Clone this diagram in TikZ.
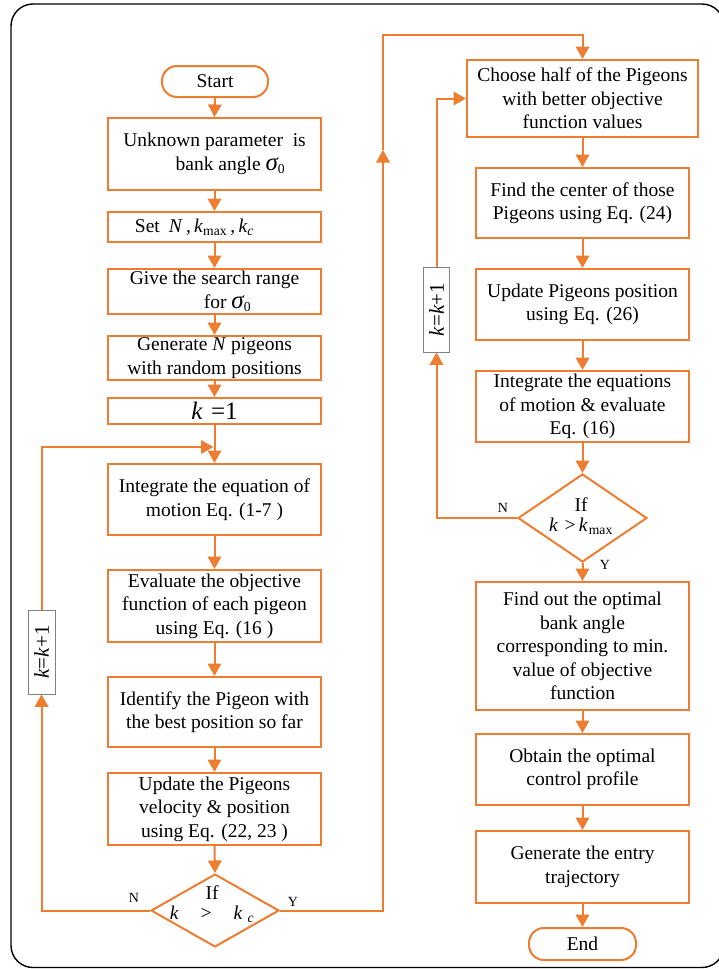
\documentclass[tikz,border=0pt]{standalone}
\usepackage{fontspec}
\setmainfont{Liberation Serif}
\usetikzlibrary{arrows.meta,shapes.geometric}
\definecolor{org}{HTML}{ED7D31}
\tikzset{
 box/.style={draw=org, line width=2pt, fill=white, align=center, inner sep=0pt, font=\fontsize{19.5}{23.5}\selectfont},
 term/.style={box, rounded corners=15pt},
 dia/.style={diamond, draw=org, line width=2pt, fill=white, inner sep=0pt},
 conn/.style={draw=org, line width=2pt, -{Triangle[width=13.5pt,length=12.5pt]}},
 labbox/.style={draw=gray, line width=0.8pt, fill=white, inner sep=0pt},
 labtxt/.style={rotate=90, inner sep=0pt, font=\fontsize{21}{24}\selectfont},
 yn/.style={inner sep=0pt, font=\fontsize{14}{16}\selectfont},
 dtxt/.style={inner sep=0pt, align=center, font=\fontsize{19.5}{20}\selectfont}
}
\newcommand\sgm{{\fontsize{25}{25}\selectfont\itshape σ}}
\begin{document}
\begin{tikzpicture}[x=1pt,y=-1pt]
\clip (0,0) rectangle (719,969);
\draw[line width=1.4pt, rounded corners=22pt] (11,4) rectangle (724,967.5);
% left column
\node[term, minimum width=106pt, minimum height=31pt] (start) at (215,81.5) {Start};
\node[box, minimum width=213pt, minimum height=72pt] (b1) at (214.5,154) {Unknown parameter\ \ is\\\hspace{32pt}bank angle \sgm\textsubscript{0}};
\node[box, minimum width=213pt, minimum height=30pt] (b2) at (214.5,227) {Set\hspace{9pt}\textit{N}\,,\,\textit{k}\textsubscript{max}\,,\,\textit{k}\textsubscript{\textit{c}}\hspace{40pt}};
\node[box, minimum width=213pt, minimum height=45pt] (b3) at (214.5,291.5) {Give the search range\\\hspace{26pt}for \sgm\textsubscript{0}};
\node[box, minimum width=213pt, minimum height=44pt] (b4) at (214.5,358) {Generate \textit{N} pigeons\\with random positions};
\node[box, minimum width=213pt, minimum height=26pt] (b5) at (214.5,411) {\fontsize{25}{26}\selectfont\textit{k}\,\,=1};
\coordinate (j1) at (213.5,447);
\node[box, minimum width=213pt, minimum height=71pt] (b6) at (214.5,499.5) {Integrate the equation of\\motion Eq. (1-7 )};
\node[box, minimum width=213pt, minimum height=72pt] (b7) at (214.5,606) {Evaluate the objective\\function of each pigeon\\using Eq. (16 )};
\node[box, minimum width=213pt, minimum height=70pt] (b8) at (214.5,712) {Identify the Pigeon with\\the best position so far};
\node[box, minimum width=213pt, minimum height=72pt] (b9) at (214.5,809) {Update the Pigeons\\velocity \& position\\using Eq. (22, 23 )};
\node[dia, minimum width=128pt, minimum height=73pt] (d1) at (215,910.5) {};
\node[dtxt] (d1t) at (212,904) {If\\\textit{k}\hspace{22pt}>\hspace{22pt}\textit{k}\hspace{5pt}\textsubscript{\textit{c}}};
\node[yn] (n1) at (134,898) {N};
\node[yn] (y1) at (293,902) {Y};
\node[labbox, minimum width=27pt, minimum height=84pt] (lab1) at (41.5,652) {};
\node[labtxt] (lab1t) at (lab1) {\textit{k}=\textit{k}+1};
% right column
\node[box, minimum width=231pt, minimum height=77pt] (r1) at (582.5,98.5) {Choose half of the Pigeons\\with better objective\\function values};
\node[box, minimum width=213pt, minimum height=70pt] (r2) at (582.5,203) {Find the center of those\\Pigeons using Eq. (24)};
\node[box, minimum width=213pt, minimum height=71pt] (r3) at (582.5,304.5) {Update Pigeons position\\using Eq. (26)};
\node[box, minimum width=213pt, minimum height=71pt] (r4) at (582.5,406.5) {Integrate the equations\\of motion \& evaluate\\Eq. (16)};
\node[dia, minimum width=129pt, minimum height=88pt] (d2) at (582.5,518) {};
\node[dtxt] (d2t) at (581,516) {If\\\textit{k}\,\,>\,\textit{k}\hspace{1pt}\textsubscript{max}};
\node[yn] (n2) at (503,508) {N};
\node[yn] (y2) at (605,565) {Y};
\node[labbox, minimum width=26pt, minimum height=85pt] (lab2) at (436.5,309.5) {};
\node[labtxt] (lab2t) at (lab2) {\textit{k}=\textit{k}+1};
\node[box, minimum width=213pt, minimum height=128pt] (r5) at (582.5,646) {Find out the optimal\\bank angle\\corresponding to min.\\value of objective\\function};
\node[box, minimum width=213pt, minimum height=71pt] (r6) at (582.5,769.5) {Obtain the optimal\\control profile};
\node[box, minimum width=213pt, minimum height=72pt] (r7) at (582.5,867) {Generate the entry\\trajectory};
\node[term, minimum width=107pt, minimum height=32pt] (end) at (582.5,944) {End};
\coordinate (m1) at (383,150);
\coordinate (t1) at (383,35);
% connectors
\draw[conn] (start.south) -- (b1.north);
\draw[conn] (b1.south) -- (b2.north);
\draw[conn] (b2.south) -- (b3.north);
\draw[conn] (b3.south) -- (b4.north);
\draw[conn] (b4.south) -- (b5.north);
\draw[conn] (b5.south) -- (b6.north);
\draw[conn] (b6.south) -- (b7.north);
\draw[conn] (b7.south) -- (b8.north);
\draw[conn] (b8.south) -- (b9.north);
\draw[conn] (b9.south) -- (d1.north);
\draw[conn] (d1.west) -| (lab1.south);
\draw[conn] (lab1.north) |- (j1);
\draw[conn] (d1.east) -| (m1);
\draw[conn] (m1) -- (t1) -| (r1.north);
\draw[conn] (r1.south) -- (r2.north);
\draw[conn] (r2.south) -- (r3.north);
\draw[conn] (r3.south) -- (r4.north);
\draw[conn] (r4.south) -- (d2.north);
\draw[conn] (d2.south) -- (r5.north);
\draw[conn] (d2.west) -| (lab2.south);
\draw[conn] (lab2.north) |- (r1.west);
\draw[conn] (r5.south) -- (r6.north);
\draw[conn] (r6.south) -- (r7.north);
\draw[conn] (r7.south) -- (end.north);
\end{tikzpicture}
\end{document}
